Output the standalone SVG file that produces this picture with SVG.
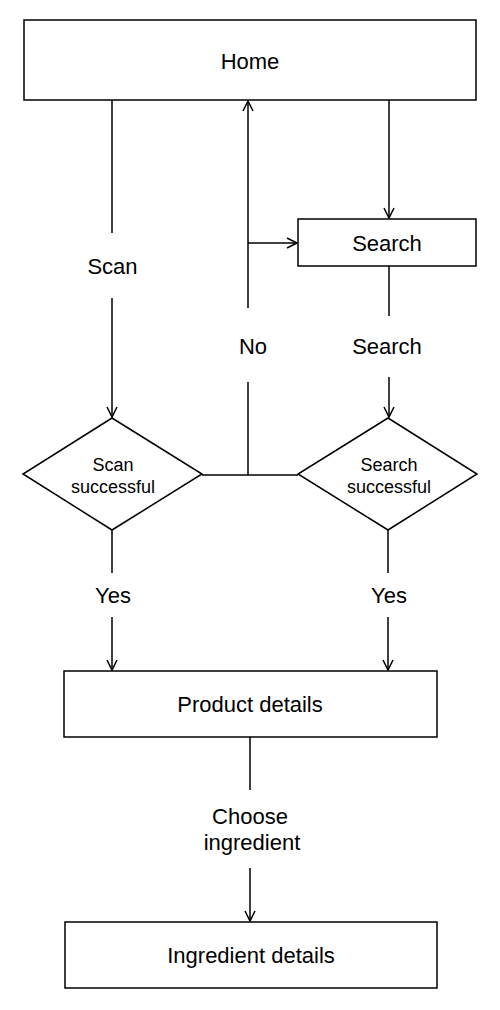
<svg xmlns="http://www.w3.org/2000/svg" width="500" height="1010" viewBox="0 0 500 1010">
<defs>
<style>
.box{fill:#fff;stroke:#000;stroke-width:1.5}
.ln{fill:none;stroke:#000;stroke-width:1.5}
.t{font-family:"Liberation Sans",Arial,sans-serif;font-size:22px;fill:#000;text-anchor:middle}
.ts{font-family:"Liberation Sans",Arial,sans-serif;font-size:18px;fill:#000;text-anchor:middle}
</style>
<marker id="arr" markerWidth="14" markerHeight="14" refX="11" refY="6" orient="auto" markerUnits="userSpaceOnUse">
<path d="M1,1 L11,6 L1,11" fill="none" stroke="#000" stroke-width="1.5"/>
</marker>
</defs>
<rect width="500" height="1010" fill="#fff"/>
<g id="connectors">
<line class="ln" x1="112" y1="100" x2="112" y2="233"/>
<line class="ln" x1="112" y1="298" x2="112" y2="417" marker-end="url(#arr)"/>
<text class="t" x="112.5" y="274">Scan</text>
<line class="ln" x1="248" y1="475" x2="248" y2="382"/>
<line class="ln" x1="248" y1="308" x2="248" y2="101" marker-end="url(#arr)"/>
<text class="t" x="253" y="354">No</text>
<line class="ln" x1="248" y1="243" x2="297" y2="243" marker-end="url(#arr)"/>
<line class="ln" x1="389" y1="100" x2="389" y2="218" marker-end="url(#arr)"/>
<line class="ln" x1="389" y1="266" x2="389" y2="316"/>
<line class="ln" x1="389" y1="377" x2="389" y2="417" marker-end="url(#arr)"/>
<text class="t" x="387" y="354">Search</text>
<line class="ln" x1="202" y1="475" x2="298" y2="475"/>
<line class="ln" x1="112" y1="530" x2="112" y2="573"/>
<line class="ln" x1="112" y1="617" x2="112" y2="670" marker-end="url(#arr)"/>
<text class="t" x="113" y="603">Yes</text>
<line class="ln" x1="388" y1="530" x2="388" y2="573"/>
<line class="ln" x1="388" y1="617" x2="388" y2="670" marker-end="url(#arr)"/>
<text class="t" x="389" y="603">Yes</text>
<line class="ln" x1="250" y1="737" x2="250" y2="790"/>
<line class="ln" x1="250" y1="868" x2="250" y2="921" marker-end="url(#arr)"/>
<text class="t" x="250" y="824">Choose</text>
<text class="t" x="252" y="850">ingredient</text>
</g>
<g id="home">
<rect class="box" x="24" y="20" width="452" height="80"/>
<text class="t" x="250" y="69">Home</text>
</g>
<g id="search">
<rect class="box" x="298" y="219" width="178" height="47"/>
<text class="t" x="387" y="251">Search</text>
</g>
<g id="scan-successful">
<polygon class="box" points="112,418 202,474 112,530 23,474"/>
<text class="ts" x="113" y="471">Scan</text>
<text class="ts" x="113" y="493">successful</text>
</g>
<g id="search-successful">
<polygon class="box" points="388,418 477,474 388,530 298,474"/>
<text class="ts" x="389" y="471">Search</text>
<text class="ts" x="389" y="493">successful</text>
</g>
<g id="product-details">
<rect class="box" x="64" y="671" width="373" height="66"/>
<text class="t" x="250" y="712">Product details</text>
</g>
<g id="ingredient-details">
<rect class="box" x="65" y="922" width="372" height="66"/>
<text class="t" x="251" y="963">Ingredient details</text>
</g>
</svg>
